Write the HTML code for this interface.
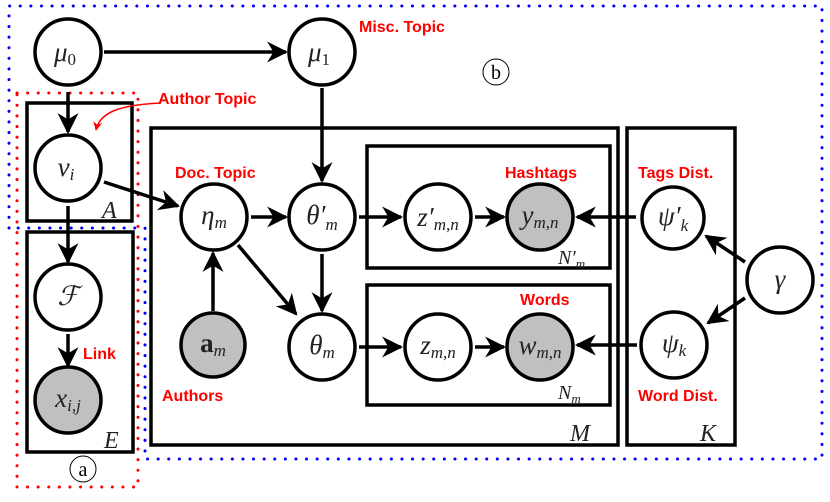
<!DOCTYPE html>
<html><head><meta charset="utf-8"><style>
html,body{margin:0;padding:0;background:#fff;}
svg{display:block;}
.m{font-family:"Liberation Serif",serif;font-style:italic;fill:#222;}
.r{font-family:"Liberation Sans",sans-serif;font-weight:bold;fill:#f00;font-size:16px;}
</style></head><body>
<svg width="830" height="502" viewBox="0 0 830 502" xmlns="http://www.w3.org/2000/svg">
<defs>
<marker id="a" viewBox="0 0 10 10" refX="9" refY="5" markerWidth="6" markerHeight="6" orient="auto" markerUnits="strokeWidth">
<path d="M0,0 L10,5 L0,10 L3,5 z" fill="#000"/></marker>
<marker id="ar" viewBox="0 0 10 10" refX="9" refY="5" markerWidth="6" markerHeight="6" orient="auto" markerUnits="strokeWidth">
<path d="M0,0 L10,5 L0,10 L3,5 z" fill="#f00"/></marker>
</defs>
<path d="M9,228 L9,6 L822,6 L822,459 L145,459 L145,228 Z" fill="none" stroke="#00f" stroke-width="3" stroke-dasharray="0.1 10.5" stroke-linecap="round"/>
<rect x="17" y="93" width="121" height="394" fill="none" stroke="#f00" stroke-width="3" stroke-dasharray="0.1 10.5" stroke-linecap="round"/>
<g fill="none" stroke="#000" stroke-width="3.5">
<rect x="27" y="103" width="105" height="118"/>
<rect x="27" y="232" width="106" height="220"/>
<rect x="151" y="128" width="467" height="317"/>
<rect x="367" y="146" width="243" height="122"/>
<rect x="367" y="285" width="243" height="120"/>
<rect x="627" y="128" width="108" height="317"/>
</g>
<g stroke="#000" stroke-width="3.5" fill="none" marker-end="url(#a)">
<line x1="104" y1="52" x2="286" y2="52"/>
<line x1="68" y1="92" x2="68" y2="132"/>
<line x1="322" y1="88" x2="322" y2="181"/>
<line x1="104" y1="182" x2="178" y2="206"/>
<line x1="251" y1="217" x2="286" y2="217"/>
<line x1="359" y1="217" x2="401" y2="217"/>
<line x1="475" y1="217" x2="504" y2="217"/>
<line x1="636" y1="217" x2="577" y2="217"/>
<line x1="745" y1="262" x2="706" y2="236"/>
<line x1="745" y1="298" x2="708" y2="323"/>
<line x1="637" y1="345" x2="577" y2="345"/>
<line x1="475" y1="347" x2="504" y2="347"/>
<line x1="359" y1="347" x2="401" y2="347"/>
<line x1="322" y1="254" x2="322" y2="311"/>
<line x1="238" y1="245" x2="296" y2="314"/>
<line x1="213" y1="311" x2="213" y2="253"/>
<line x1="68" y1="206" x2="68" y2="262"/>
<line x1="68" y1="334" x2="68" y2="366"/>
</g>
<path d="M160,103 C120,105 100,112 96,130" stroke="#f00" stroke-width="1.5" fill="none" marker-end="url(#ar)"/>
<g stroke="#000" stroke-width="3.5">
<circle cx="68" cy="52" r="33" fill="#fff"/>
<circle cx="322" cy="52" r="33" fill="#fff"/>
<circle cx="68" cy="168" r="33" fill="#fff"/>
<circle cx="214" cy="217" r="33" fill="#fff"/>
<circle cx="322" cy="217" r="33" fill="#fff"/>
<circle cx="438" cy="217" r="33" fill="#fff"/>
<circle cx="540" cy="217" r="33" fill="#c0c0c0"/>
<circle cx="673" cy="218" r="31" fill="#fff"/>
<circle cx="780" cy="280" r="33" fill="#fff"/>
<circle cx="674" cy="345" r="33" fill="#fff"/>
<circle cx="540" cy="347" r="33" fill="#c0c0c0"/>
<circle cx="438" cy="347" r="33" fill="#fff"/>
<circle cx="322" cy="347" r="33" fill="#fff"/>
<circle cx="213" cy="345" r="32" fill="#c0c0c0"/>
<circle cx="68" cy="297" r="33" fill="#fff"/>
<circle cx="68" cy="400" r="33" fill="#c0c0c0"/>
</g>
<g class="m" font-size="27" text-anchor="middle">
<text x="65" y="61">μ<tspan font-size="17" font-style="normal" dy="4">0</tspan></text>
<text x="319" y="61">μ<tspan font-size="17" font-style="normal" dy="4">1</tspan></text>
<text x="66" y="176">ν<tspan font-size="17" dy="4">i</tspan></text>
<text x="214" y="224">η<tspan font-size="17" dy="4">m</tspan></text>
<text x="322" y="224">θ′<tspan font-size="17" dy="6">m</tspan></text>
<text x="438" y="226">z′<tspan font-size="17" dy="4">m,n</tspan></text>
<text x="540" y="224">y<tspan font-size="17" dy="4">m,n</tspan></text>
<text x="673" y="225">ψ′<tspan font-size="17" dy="6">k</tspan></text>
<text x="780" y="288">γ</text>
<text x="674" y="352">ψ<tspan font-size="17" dy="4">k</tspan></text>
<text x="540" y="354">w<tspan font-size="17" dy="4">m,n</tspan></text>
<text x="438" y="354">z<tspan font-size="17" dy="4">m,n</tspan></text>
<text x="322" y="354">θ<tspan font-size="17" dy="4">m</tspan></text>
<text x="213" y="352" font-style="normal" font-weight="bold">a<tspan font-size="17" font-style="italic" font-weight="normal" dy="4">m</tspan></text>
<text x="68" y="305">ℱ</text>
<text x="68" y="407">x<tspan font-size="17" dy="4">i,j</tspan></text>
</g>
<g class="m" font-size="24">
<text x="102" y="218">A</text>
<text x="104" y="448">E</text>
<text x="570" y="441">M</text>
<text x="700" y="441">K</text>
<text x="558" y="264" font-size="20">N′<tspan font-size="13" dy="4">m</tspan></text>
<text x="558" y="399" font-size="20">N<tspan font-size="13" dy="4">m</tspan></text>
</g>
<g font-family="Liberation Serif,serif" font-size="20" text-anchor="middle" fill="#000">
<circle cx="496" cy="72" r="13" fill="none" stroke="#000" stroke-width="1"/>
<text x="496" y="79">b</text>
<circle cx="83" cy="469" r="13" fill="none" stroke="#000" stroke-width="1"/>
<text x="83" y="476">a</text>
</g>
<text class="r" x="359" y="32">Misc. Topic</text>
<text class="r" x="158" y="104">Author Topic</text>
<text class="r" x="175" y="178">Doc. Topic</text>
<text class="r" x="505" y="178">Hashtags</text>
<text class="r" x="638" y="178">Tags Dist.</text>
<text class="r" x="520" y="305">Words</text>
<text class="r" x="638" y="401">Word Dist.</text>
<text class="r" x="162" y="401">Authors</text>
<text class="r" x="83" y="359">Link</text>
</svg>
</body></html>
